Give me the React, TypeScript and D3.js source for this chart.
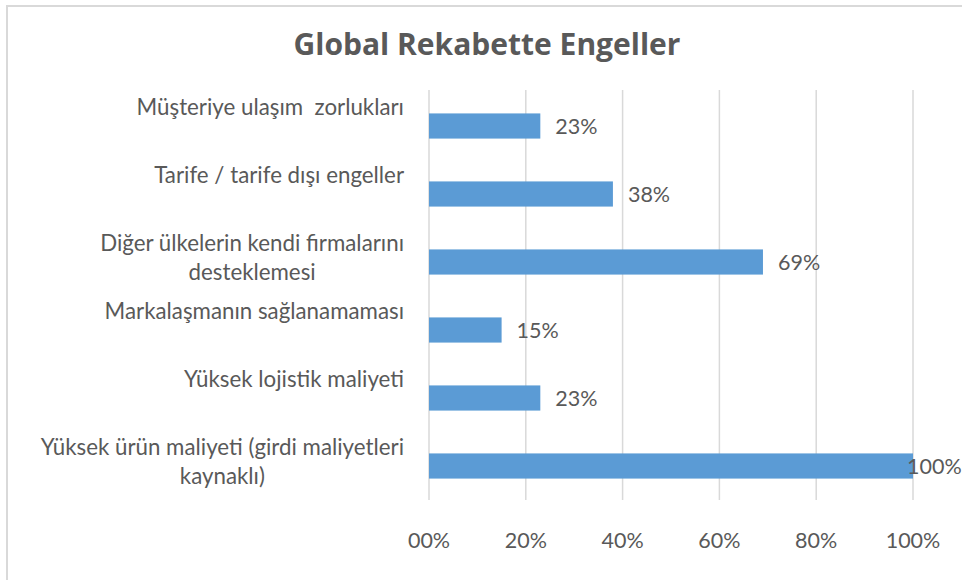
import React from 'react';
import { scaleBand, scaleLinear, select } from 'd3';

const title = 'Global Rekabette Engeller';

const categories = [
  'Müşteriye ulaşım  zorlukları',
  'Tarife / tarife dışı engeller',
  'Diğer ülkelerin kendi firmalarını\ndesteklemesi',
  'Markalaşmanın sağlanamaması',
  'Yüksek lojistik maliyeti',
  'Yüksek ürün maliyeti (girdi maliyetleri\nkaynaklı)',
];

const values = [0.23, 0.38, 0.69, 0.15, 0.23, 1.0];

const ticks = [0, 0.2, 0.4, 0.6, 0.8, 1.0];
const tickLabels = ['00%', '20%', '40%', '60%', '80%', '100%'];

const dims = {
  width: 962,
  height: 580,
  plotLeft: 429,
  plotRight: 913,
  plotTop: 92,
  plotBottom: 500,
  labelRight: 404,
};

const FONT = 'Lato, "Noto Sans", sans-serif';
const TITLE_FONT = '"Open Sans", Lato, sans-serif';
const TEXT = '#595959';

const App: React.FC = () => {
  const labelsRef = React.useRef<SVGGElement>(null);

  const x = scaleLinear().domain([0, 1]).range([dims.plotLeft, dims.plotRight]);
  const y = scaleBand<number>()
    .domain(values.map((_, i) => i))
    .range([dims.plotTop, dims.plotBottom])
    .paddingInner(0.63)
    .paddingOuter(0.315);

  // category labels: block right-aligned, lines centered inside the block
  React.useEffect(() => {
    const g = select(labelsRef.current);
    g.selectAll('*').remove();
    categories.forEach((cat, i) => {
      const lines = cat.split('\n');
      const cy = (y(i) ?? 0) + y.bandwidth() / 2;
      const t = g
        .append('text')
        .attr('font-family', FONT)
        .attr('font-size', 22.3)
        .attr('fill', TEXT)
        .attr('text-anchor', 'middle')
        .style('white-space', 'pre');
      const spans = lines.map((ln, j) =>
        t.append('tspan').attr('y', cy - 11 + j * 29).text(ln)
      );
      const maxW = Math.max(...spans.map(s => (s.node() as SVGTSpanElement).getComputedTextLength()));
      spans.forEach(s => s.attr('x', dims.labelRight - maxW / 2));
    });
  }, []);

  return (
    <div style={{ position: 'absolute', left: 0, top: 0 }}>
      <svg width={dims.width} height={dims.height} style={{ display: 'block', background: '#fff' }}>
        <rect x={7} y={6} width={980} height={600} fill="#fff" stroke="#d9d9d9" strokeWidth={2} />
        <text
          x={487}
          y={55}
          textAnchor="middle"
          fontFamily={TITLE_FONT}
          fontWeight="bold"
          fontSize={30}
          fill={TEXT}
        >
          {title}
        </text>

        {ticks.map((t, i) => (
          <g key={i}>
            <line
              x1={x(t)}
              x2={x(t)}
              y1={dims.plotTop - 2}
              y2={dims.plotBottom}
              stroke="#d9d9d9"
              strokeWidth={1.5}
            />
            <text
              x={x(t)}
              y={548}
              textAnchor="middle"
              fontFamily={FONT}
              fontSize={21.5}
              fill={TEXT}
            >
              {tickLabels[i]}
            </text>
          </g>
        ))}

        {values.map((v, i) => (
          <rect
            key={i}
            x={x(0)}
            y={y(i)}
            width={x(v) - x(0)}
            height={y.bandwidth()}
            fill="#5b9bd5"
          />
        ))}

        {values.map((v, i) => (
          <text
            key={i}
            x={Math.min(x(v) + 15, 961 - 54)}
            y={(y(i) ?? 0) + y.bandwidth() / 2 + 8}
            fontFamily={FONT}
            fontSize={21.5}
            fill={TEXT}
          >
            {Math.round(v * 100)}%
          </text>
        ))}

        <g ref={labelsRef} />
      </svg>
    </div>
  );
};

export default App;
